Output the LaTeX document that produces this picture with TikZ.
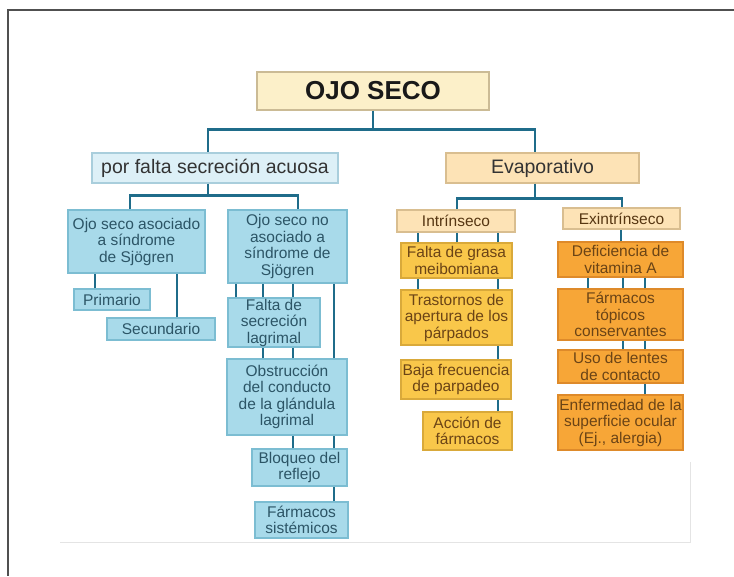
\documentclass[tikz,border=0pt]{standalone}
\usepackage{fontspec}
\setmainfont{Liberation Sans}
\definecolor{lnc}{HTML}{1F6C8A}
\definecolor{bluef}{HTML}{A8DAEA}
\definecolor{blued}{HTML}{7CBDD2}
\definecolor{bluet}{HTML}{2C5566}
\definecolor{paleb}{HTML}{DDF0F7}
\definecolor{palebd}{HTML}{A9CEDC}
\definecolor{yelf}{HTML}{F9C74A}
\definecolor{yeld}{HTML}{D9A93A}
\definecolor{oraf}{HTML}{F7A637}
\definecolor{orad}{HTML}{DE8A2A}
\definecolor{brt}{HTML}{6B4416}
\definecolor{peachf}{HTML}{FDE3B6}
\definecolor{peachd}{HTML}{D9BE90}
\definecolor{creamf}{HTML}{FCF0C9}
\definecolor{creamd}{HTML}{CBBB95}
\definecolor{framec}{HTML}{505050}
\definecolor{panelc}{HTML}{E4E4E4}
\tikzset{
  sz/.style 2 args={minimum width=#1pt, minimum height=#2pt},
  box/.style={draw, line width=1.2pt, align=center, inner sep=0pt,
    font=\fontsize{15.5}{16.5}\selectfont},
  bbox/.style={box, fill=bluef, draw=blued, text=bluet},
  ybox/.style={box, fill=yelf, draw=yeld, text=brt},
  obox/.style={box, fill=oraf, draw=orad, text=brt},
  pbox/.style={box, fill=peachf, draw=peachd, text=brt!80!black},
  conn/.style={draw=lnc, line width=2.6pt},
}
\newcommand\vconn[3]{\draw[conn] ([xshift=#3pt]#2.north) coordinate (tmpc) -- (tmpc |- #1.south);}
\begin{document}
\begin{tikzpicture}[x=1pt,y=-1pt]
\useasboundingbox (0,0) rectangle (734,576);
\fill[white] (0,0) rectangle (734,576);
% frame
\draw[framec, line width=2pt] (7,10) -- (734,10);
\draw[framec, line width=2pt] (8,9) -- (8,576);
% faint panel edge
\draw[panelc, line width=1pt] (60,542) -- (690,542) -- (690,462);

% nodes
\node[box, fill=creamf, draw=creamd, text=black!90, sz={232}{38},
  font=\fontsize{26}{28}\selectfont\bfseries] (ojo) at (373,91) {OJO SECO};
\node[box, fill=paleb, draw=palebd, text=black!80, sz={246}{30},
  font=\fontsize{19.5}{21}\selectfont] (pfa) at (215,168) {por falta secreción acuosa};
\node[box, fill=peachf, draw=peachd, text=black!80, sz={193}{30},
  font=\fontsize{19.5}{21}\selectfont] (evap) at (542.5,168) {Evaporativo};

\node[bbox, sz={137}{63}] (asoc) at (136.5,241.5) {Ojo seco asociado\\a síndrome\\de Sjögren};
\node[bbox, sz={119}{73}] (noasoc) at (287.5,246.5) {Ojo seco no\\asociado a\\síndrome de\\Sjögren};
\node[bbox, sz={76}{21}] (prim) at (112,299.5) {Primario};
\node[bbox, sz={108}{22}] (sec) at (161,329) {Secundario};
\node[bbox, sz={92}{49}] (falta) at (274,322.5) {Falta de\\secreción\\lagrimal};
\node[bbox, sz={120}{76}] (obst) at (287,397) {Obstrucción\\del conducto\\de la glándula\\lagrimal};
\node[bbox, sz={95}{37}] (bloq) at (299.5,467.5) {Bloqueo del\\reflejo};
\node[bbox, sz={93}{36}] (farsis) at (301.5,520) {Fármacos\\sistémicos};

\node[pbox, sz={118}{22}] (intr) at (456,221) {Intrínseco};
\node[pbox, sz={117}{21}] (exin) at (621.5,218.5) {Exintrínseco};
\node[ybox, sz={111}{35}] (grasa) at (456.5,260.5) {Falta de grasa\\meibomiana};
\node[ybox, sz={111}{55}] (trast) at (456.5,317.5) {Trastornos de\\apertura de los\\párpados};
\node[ybox, sz={110}{39}] (baja) at (456,379.5) {Baja frecuencia\\de parpadeo};
\node[ybox, sz={89}{38}] (accion) at (467.5,431) {Acción de\\fármacos};
\node[obox, sz={125}{35}] (defic) at (620.5,259.5) {Deficiencia de\\vitamina A};
\node[obox, sz={125}{51}] (fartop) at (620.5,314.5) {Fármacos\\tópicos\\conservantes};
\node[obox, sz={125}{33}] (uso) at (620.5,366.5) {Uso de lentes\\de contacto};
\node[obox, sz={125}{55}] (enf) at (620.5,422.5) {Enfermedad de la\\superficie ocular\\(Ej., alergia)};

% top-level connectors
\coordinate (j0) at ([yshift=-19pt]ojo.south);
\draw[conn] (ojo.south) -- (j0);
\draw[conn] (j0) -| ([xshift=-7pt]pfa.north);
\draw[conn] (j0) -| ([xshift=-7.5pt]evap.north);

\coordinate (j1) at ([xshift=-7pt,yshift=-12pt]pfa.south);
\draw[conn] ([xshift=-7pt]pfa.south) -- (j1);
\draw[conn] (j1) -| ([xshift=-6.5pt]asoc.north);
\draw[conn] (j1) -| ([xshift=10.5pt]noasoc.north);

\coordinate (j2) at ([xshift=-7.5pt,yshift=-15pt]evap.south);
\draw[conn] ([xshift=-7.5pt]evap.south) -- (j2);
\draw[conn] (j2) -| ([xshift=1pt]intr.north);
\draw[conn] (j2) -| ([xshift=0.5pt]exin.north);

% left branch
\vconn{asoc}{prim}{-17}
\vconn{asoc}{sec}{16}
\vconn{noasoc}{falta}{-38}
\vconn{noasoc}{falta}{-11}
\vconn{noasoc}{falta}{19}
\vconn{noasoc}{obst}{47}
\vconn{falta}{obst}{-24}
\vconn{falta}{obst}{6}
\vconn{obst}{bloq}{-6.5}
\vconn{obst}{bloq}{34.5}
\vconn{bloq}{farsis}{32.5}

% right branch
\vconn{intr}{grasa}{-38.5}
\vconn{intr}{grasa}{0.5}
\vconn{intr}{grasa}{41.5}
\vconn{grasa}{trast}{-38.5}
\vconn{grasa}{trast}{41.5}
\vconn{trast}{baja}{42}
\vconn{baja}{accion}{30.5}
\vconn{exin}{defic}{0.5}
\vconn{defic}{fartop}{-32.5}
\vconn{defic}{fartop}{2.5}
\vconn{defic}{fartop}{24.5}
\vconn{fartop}{uso}{2.5}
\vconn{fartop}{uso}{24.5}
\vconn{uso}{enf}{24.5}
\end{tikzpicture}
\end{document}
